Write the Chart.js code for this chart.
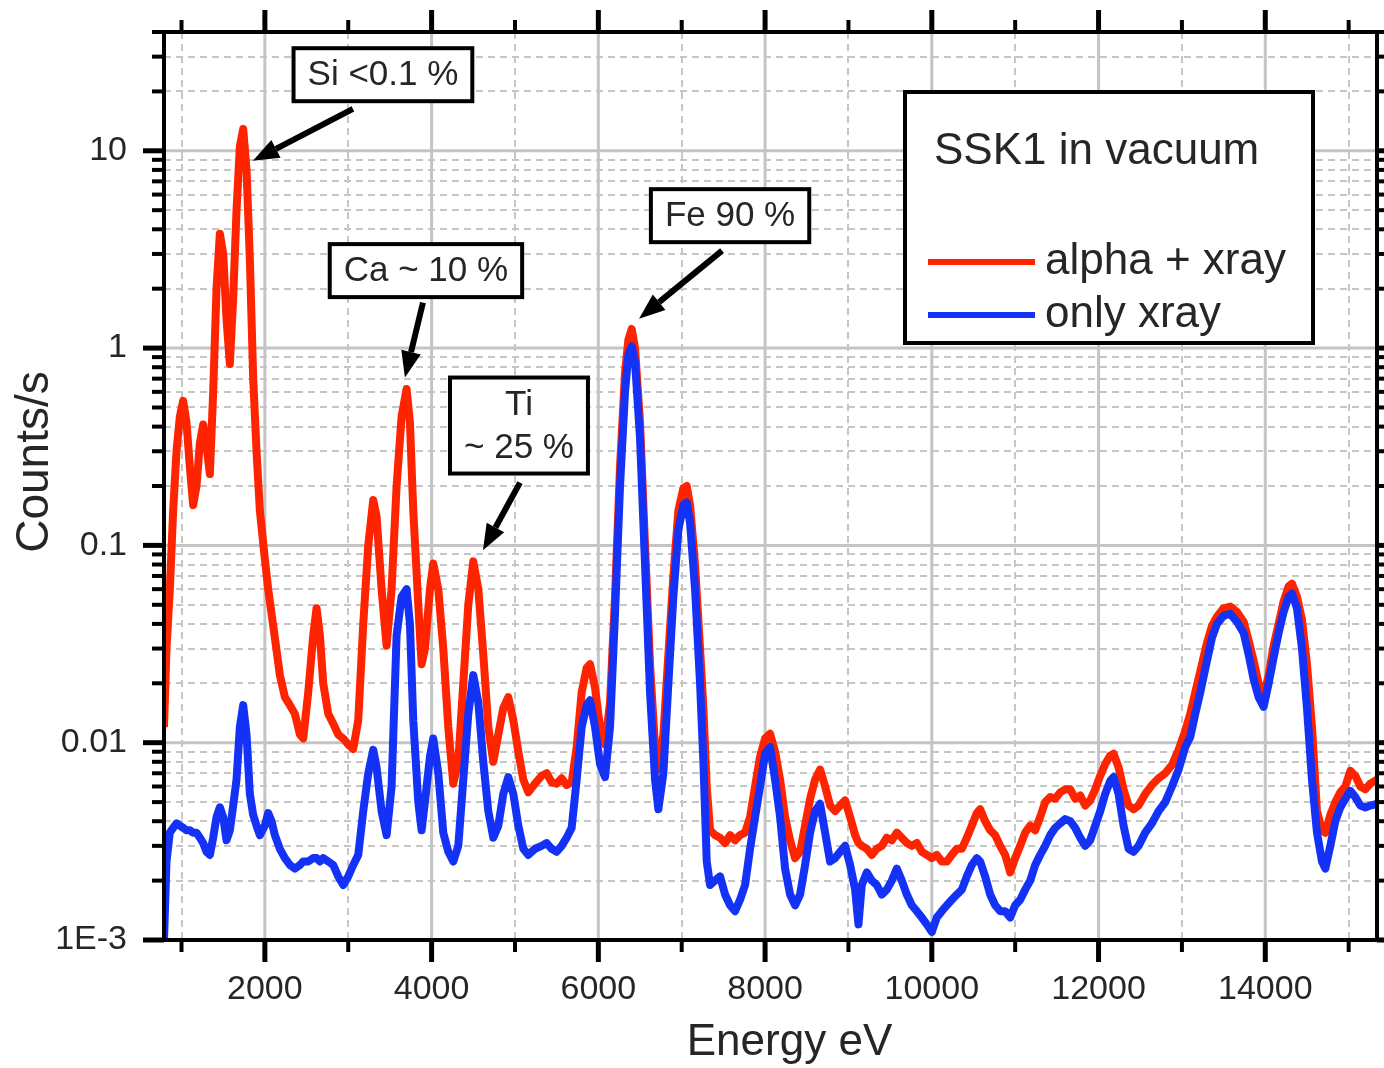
<!DOCTYPE html>
<html><head><meta charset="utf-8">
<script src="https://cdn.jsdelivr.net/npm/chart.js@4.4.1/dist/chart.umd.min.js"></script>
<style>html,body{margin:0;padding:0;background:#fff}canvas{display:block}</style>
</head><body>
<canvas id="c" width="1384" height="1068"></canvas>
<script>
// ---- data ----
const energy = [790,820,860,900,940,980,1020,1060,1100,1140,1180,1220,1260,1300,1340,1380,1420,1460,1500,1540,1580,1620,1660,1700,1740,1780,1820,1860,1900,1940,
2000,2040,2080,2120,2180,2240,2300,2360,2420,2460,2520,2580,2620,2660,2700,2760,2820,2880,2940,3000,3060,3120,3180,3240,3300,3340,3400,3460,3520,3580,3640,3700,3740,3780,3840,3880,3920,3980,
4020,4080,4140,4200,4260,4320,4380,4440,4500,4560,4620,4680,4740,4800,4860,4920,4980,5040,5100,5160,5240,5320,5380,5440,5500,5560,5620,5680,5740,5800,5860,5900,5960,
6020,6080,6140,6200,6260,6320,6360,6400,6440,6500,6560,6620,6680,6720,6780,6840,6900,6960,7020,7060,7100,7160,7220,7260,7300,7340,7400,7460,7520,7580,7640,7700,7760,7820,7880,7940,
8000,8060,8120,8180,8240,8300,8360,8420,8480,8540,8600,8660,8720,8780,8840,8900,8960,9020,9080,9120,9160,9220,9280,9340,9400,9460,9520,9580,9640,9700,9760,9820,9880,9940,
10000,10060,10120,10180,10240,10300,10360,10420,10480,10540,10580,10640,10700,10760,10820,10880,10940,11000,11060,11120,11180,11240,11300,11360,11420,11480,11540,11600,11660,11720,11780,11840,11900,11960,
12020,12080,12140,12180,12240,12300,12360,12420,12480,12560,12640,12720,12800,12880,12960,13040,13100,13160,13220,13300,13360,13420,13500,13580,13660,13740,13800,13860,13920,13980,
14040,14100,14160,14220,14280,14320,14380,14440,14500,14560,14620,14680,14720,14780,14840,14900,14960,15020,15080,15140,15200,15260,15340];

const alphaXray = [0.012,0.03,0.06,0.15,0.3,0.45,0.54,0.42,0.25,0.16,0.2,0.33,0.41,0.32,0.23,0.6,2.0,3.8,3.0,1.4,0.83,1.8,5.0,10.5,12.9,8.0,2.8,0.7,0.3,0.15,
0.085,0.06,0.045,0.034,0.022,0.017,0.0155,0.014,0.011,0.0105,0.018,0.035,0.048,0.035,0.02,0.014,0.0125,0.011,0.0105,0.0098,0.0093,0.013,0.04,0.1,0.17,0.14,0.06,0.031,0.06,0.2,0.45,0.62,0.42,0.15,0.05,0.025,0.03,0.06,
0.081,0.06,0.03,0.012,0.0062,0.008,0.02,0.05,0.083,0.06,0.028,0.012,0.008,0.011,0.015,0.017,0.013,0.009,0.0065,0.0056,0.0062,0.0068,0.007,0.0063,0.0062,0.0066,0.0061,0.0063,0.0095,0.018,0.024,0.025,0.019,
0.012,0.0098,0.016,0.055,0.25,0.75,1.1,1.25,1.0,0.42,0.1,0.025,0.0095,0.0073,0.011,0.028,0.07,0.15,0.195,0.2,0.16,0.08,0.03,0.015,0.006,0.0036,0.0034,0.0033,0.0031,0.0034,0.0032,0.0034,0.0035,0.0042,0.006,0.0085,
0.0105,0.0111,0.009,0.0065,0.0042,0.0032,0.0026,0.0028,0.0038,0.0052,0.0065,0.0073,0.006,0.0048,0.0045,0.0048,0.0051,0.0042,0.0034,0.0031,0.003,0.0029,0.0027,0.0029,0.003,0.0033,0.0032,0.0035,0.0033,0.0031,0.003,0.0031,0.0028,0.0027,
0.0026,0.0027,0.0025,0.0025,0.0027,0.0029,0.0029,0.0033,0.0038,0.0044,0.0046,0.004,0.0036,0.0034,0.003,0.0027,0.0022,0.0026,0.003,0.0035,0.0038,0.0036,0.0042,0.005,0.0053,0.0052,0.0056,0.0058,0.0058,0.0052,0.0054,0.0048,0.0051,0.0058,
0.0068,0.0078,0.0086,0.0088,0.0075,0.0058,0.0048,0.0046,0.0048,0.0055,0.0061,0.0066,0.007,0.0077,0.0092,0.0115,0.014,0.018,0.023,0.032,0.039,0.0435,0.048,0.049,0.046,0.041,0.033,0.026,0.02,0.0171,
0.022,0.031,0.04,0.052,0.062,0.064,0.055,0.042,0.025,0.012,0.0045,0.0036,0.0035,0.0043,0.005,0.0056,0.006,0.0072,0.0068,0.006,0.0058,0.0062,0.0065];

const onlyXray = [0.001,0.0025,0.0035,0.0037,0.0039,0.0038,0.0037,0.0036,0.0036,0.0035,0.0035,0.0033,0.0031,0.0028,0.0027,0.0033,0.0042,0.0047,0.0042,0.0032,0.0036,0.0048,0.0065,0.012,0.0155,0.011,0.0055,0.0043,0.0038,0.0034,
0.0038,0.0044,0.004,0.0034,0.0029,0.0026,0.0024,0.0023,0.0024,0.0025,0.0025,0.0026,0.0026,0.0025,0.0026,0.0025,0.0024,0.0021,0.0019,0.0021,0.0024,0.0027,0.0045,0.007,0.0092,0.0075,0.0045,0.0034,0.006,0.035,0.055,0.06,0.04,0.013,0.005,0.0036,0.005,0.0085,
0.0105,0.007,0.0035,0.0028,0.0025,0.003,0.0065,0.014,0.022,0.016,0.008,0.0045,0.0033,0.0038,0.0055,0.0067,0.0055,0.0038,0.0029,0.0027,0.0029,0.003,0.0031,0.0029,0.0028,0.003,0.0033,0.0037,0.0065,0.012,0.0155,0.0164,0.012,
0.0078,0.0067,0.012,0.045,0.2,0.6,0.92,1.02,0.85,0.35,0.08,0.018,0.0065,0.0046,0.007,0.02,0.055,0.12,0.16,0.165,0.13,0.06,0.02,0.008,0.0025,0.0019,0.002,0.0021,0.0017,0.0015,0.0014,0.0016,0.0019,0.0029,0.0042,0.006,
0.0088,0.0095,0.0065,0.0042,0.0023,0.0017,0.0015,0.0017,0.0024,0.0035,0.0045,0.0049,0.0035,0.0025,0.0026,0.0028,0.003,0.0024,0.0018,0.0012,0.0019,0.0022,0.002,0.0019,0.0017,0.0018,0.002,0.0023,0.002,0.0017,0.0015,0.0014,0.0013,0.0012,
0.0011,0.0013,0.0014,0.0015,0.0016,0.0017,0.0018,0.0021,0.0024,0.0026,0.0025,0.0021,0.0017,0.0015,0.0014,0.0014,0.0013,0.0015,0.0016,0.0018,0.002,0.0024,0.0027,0.003,0.0034,0.0037,0.0039,0.0041,0.004,0.0037,0.0033,0.003,0.0032,0.0038,
0.0045,0.0055,0.0064,0.0067,0.0055,0.0038,0.0029,0.0028,0.003,0.0035,0.0039,0.0045,0.005,0.006,0.0073,0.0095,0.0107,0.014,0.018,0.026,0.034,0.04,0.044,0.045,0.041,0.036,0.028,0.021,0.017,0.0152,
0.02,0.027,0.036,0.046,0.055,0.057,0.048,0.03,0.015,0.0065,0.0035,0.0025,0.0023,0.003,0.004,0.0047,0.0052,0.0057,0.0053,0.0048,0.0047,0.0048,0.0049];

const seriesLabels = ['alpha + xray', 'only xray'];
const legendTitle = 'SSK1 in vacuum';
const xTitle = 'Energy eV';
const yTitle = 'Counts/s';
const xMajorTicks = [2000, 4000, 6000, 8000, 10000, 12000, 14000];
const xMinorTicks = [1000, 3000, 5000, 7000, 9000, 11000, 13000, 15000];
const yMajorTicks = [0.001, 0.01, 0.1, 1, 10];
const yMajorLabels = ['1E-3', '0.01', '0.1', '1', '10'];

// annotation labels, anchored in data coordinates (energy, counts)
const annotations = [
  { lines: ['Si <0.1 %'], boxE: 3416, boxV: 24.3, tailE: 3056, tailV: 16.3, tipE: 1856, tipV: 8.9 },
  { lines: ['Ca ~ 10 %'], boxE: 3932, boxV: 2.47, tailE: 3896, tailV: 1.70, tipE: 3680, tipV: 0.71 },
  { lines: ['Ti', '~ 25 %'], boxE: 5048, boxV: 0.405, tailE: 5060, tailV: 0.208, tipE: 4616, tipV: 0.0944 },
  { lines: ['Fe 90 %'], boxE: 7580, boxV: 4.69, tailE: 7484, tailV: 3.12, tipE: 6488, tipV: 1.41 }
];

// ---- styling ----
const FONT = "'Liberation Sans', Arial, Helvetica, sans-serif";
const TEXT = '#262626';
const RED = '#ff2400';
const BLUE = '#1432f6';

function arrow(ctx, x1, y1, x2, y2) {
  const ang = Math.atan2(y2 - y1, x2 - x1);
  const hl = 26, hw = 10;
  const bx = x2 - hl * Math.cos(ang), by = y2 - hl * Math.sin(ang);
  ctx.lineWidth = 6;
  ctx.lineCap = 'butt';
  ctx.beginPath(); ctx.moveTo(x1, y1); ctx.lineTo(bx, by); ctx.stroke();
  ctx.beginPath();
  ctx.moveTo(x2, y2);
  ctx.lineTo(bx - hw * Math.sin(ang), by + hw * Math.cos(ang));
  ctx.lineTo(bx + hw * Math.sin(ang), by - hw * Math.cos(ang));
  ctx.closePath(); ctx.fill();
}

const decorations = {
  id: 'decorations',
  beforeDraw(chart) {
    const ctx = chart.ctx;
    ctx.save(); ctx.fillStyle = '#fff'; ctx.fillRect(0, 0, chart.width, chart.height); ctx.restore();
  },
  beforeDatasetsDraw(chart) {
    const { ctx, chartArea: a, scales: { x: X, y: Y } } = chart;
    ctx.save();
    ctx.beginPath(); ctx.rect(a.left, a.top, a.width, a.height); ctx.clip();
    // minor y grid (dashed)
    ctx.strokeStyle = '#c6c6c6'; ctx.lineWidth = 2; ctx.setLineDash([7, 5]);
    yMajorTicks.forEach(d => {
      for (let m = 2; m <= 9; m++) {
        const v = d * m; if (v > Y.max) continue;
        const p = Math.round(Y.getPixelForValue(v));
        ctx.beginPath(); ctx.moveTo(a.left, p); ctx.lineTo(a.right, p); ctx.stroke();
      }
    });
    xMinorTicks.forEach(v => {
      const p = Math.round(X.getPixelForValue(v));
      ctx.beginPath(); ctx.moveTo(p, a.top); ctx.lineTo(p, a.bottom); ctx.stroke();
    });
    // major grid (solid)
    ctx.setLineDash([]); ctx.strokeStyle = '#c4c4c4'; ctx.lineWidth = 3;
    yMajorTicks.forEach(v => {
      const p = Y.getPixelForValue(v);
      ctx.beginPath(); ctx.moveTo(a.left, p); ctx.lineTo(a.right, p); ctx.stroke();
    });
    xMajorTicks.forEach(v => {
      const p = X.getPixelForValue(v);
      ctx.beginPath(); ctx.moveTo(p, a.top); ctx.lineTo(p, a.bottom); ctx.stroke();
    });
    ctx.restore();
  },
  afterDatasetsDraw(chart) {
    const { ctx, chartArea: a, scales: { x: X, y: Y } } = chart;
    ctx.save();
    // frame
    ctx.strokeStyle = '#000'; ctx.fillStyle = '#000'; ctx.lineWidth = 4;
    ctx.strokeRect(a.left, a.top, a.width, a.height);
    // tick marks on all four sides
    const tick = (x1, y1, x2, y2, w) => { ctx.lineWidth = w; ctx.beginPath(); ctx.moveTo(x1, y1); ctx.lineTo(x2, y2); ctx.stroke(); };
    xMajorTicks.forEach(v => { const p = X.getPixelForValue(v); tick(p, a.bottom, p, a.bottom + 22, 5); tick(p, a.top, p, a.top - 22, 5); });
    xMinorTicks.forEach(v => { const p = X.getPixelForValue(v); tick(p, a.bottom, p, a.bottom + 12, 4); tick(p, a.top, p, a.top - 12, 4); });
    yMajorTicks.forEach(d => {
      const p = Y.getPixelForValue(d);
      tick(a.left, p, a.left - 21, p, 5); tick(a.right, p, a.right + 21, p, 5);
      for (let m = 2; m <= 9; m++) {
        const v = d * m; if (v > Y.max) continue;
        const q = Y.getPixelForValue(v);
        tick(a.left, q, a.left - 12, q, 4); tick(a.right, q, a.right + 12, q, 4);
      }
    });
    // annotations
    ctx.font = '35px ' + FONT; ctx.textAlign = 'center'; ctx.textBaseline = 'middle';
    annotations.forEach(an => {
      const cx = X.getPixelForValue(an.boxE), cy = Y.getPixelForValue(an.boxV);
      const tw = Math.max(...an.lines.map(l => ctx.measureText(l).width));
      const w = tw + 28, h = 10 + 43 * an.lines.length;
      ctx.fillStyle = '#000'; ctx.strokeStyle = '#000';
      arrow(ctx, X.getPixelForValue(an.tailE), Y.getPixelForValue(an.tailV), X.getPixelForValue(an.tipE), Y.getPixelForValue(an.tipV));
      ctx.fillStyle = '#fff'; ctx.fillRect(cx - w / 2, cy - h / 2, w, h);
      ctx.lineWidth = 4; ctx.strokeRect(cx - w / 2, cy - h / 2, w, h);
      ctx.fillStyle = TEXT;
      an.lines.forEach((l, i) => ctx.fillText(l, cx, cy + (i - (an.lines.length - 1) / 2) * 43 + 1));
    });
    // legend box
    const lx = a.right - 472, ly = a.top + 60, lw = 408, lh = 251;
    ctx.fillStyle = '#fff'; ctx.fillRect(lx, ly, lw, lh);
    ctx.lineWidth = 4; ctx.strokeStyle = '#000'; ctx.strokeRect(lx, ly, lw, lh);
    ctx.font = '44px ' + FONT; ctx.textAlign = 'left'; ctx.fillStyle = TEXT;
    ctx.fillText(legendTitle, lx + 29, ly + 60);
    chart.data.datasets.forEach((ds, i) => {
      const yy = ly + 170 + i * 53;
      ctx.strokeStyle = ds.borderColor; ctx.lineWidth = 6;
      ctx.beginPath(); ctx.moveTo(lx + 23, yy); ctx.lineTo(lx + 130, yy); ctx.stroke();
      ctx.fillStyle = TEXT; ctx.fillText(ds.label, lx + 140, yy);
    });
    // axis titles
    ctx.font = '44px ' + FONT; ctx.textAlign = 'center'; ctx.fillStyle = TEXT;
    ctx.fillText(xTitle, (a.left + a.right) / 2 + 19, a.bottom + 103);
    ctx.translate(a.left - 129, (a.top + a.bottom) / 2 - 24);
    ctx.rotate(-Math.PI / 2);
    ctx.font = '46px ' + FONT;
    ctx.fillText(yTitle, 0, 0);
    ctx.restore();
  }
};

new Chart(document.getElementById('c'), {
  type: 'line',
  data: {
    datasets: [
      { label: seriesLabels[0], data: energy.map((e, i) => ({ x: e, y: alphaXray[i] })), borderColor: RED, borderWidth: 8, pointRadius: 0, tension: 0, borderJoinStyle: 'round', order: 1, clip: 0 },
      { label: seriesLabels[1], data: energy.map((e, i) => ({ x: e, y: onlyXray[i] })), borderColor: BLUE, borderWidth: 8, pointRadius: 0, tension: 0, borderJoinStyle: 'round', order: 0, clip: 0 }
    ]
  },
  options: {
    responsive: false,
    animation: false,
    events: [],
    layout: { padding: { top: 32, right: 7, left: 0, bottom: 0 } },
    plugins: { legend: { display: false }, tooltip: { enabled: false }, title: { display: false } },
    scales: {
      x: {
        type: 'linear', min: 790, max: 15340,
        grid: { display: false }, border: { display: false },
        afterBuildTicks: s => { s.ticks = xMajorTicks.map(v => ({ value: v })); },
        afterFit: s => { s.height = 128; s.paddingLeft = 0; s.paddingRight = 0; },
        ticks: { padding: 21, color: TEXT, font: { size: 34, family: FONT }, maxRotation: 0, autoSkip: false, callback: v => String(v) }
      },
      y: {
        type: 'logarithmic', min: 0.001, max: 40,
        grid: { display: false }, border: { display: false },
        afterBuildTicks: s => { s.ticks = yMajorTicks.map(v => ({ value: v })); },
        afterFit: s => { s.width = 164; s.paddingTop = 0; s.paddingBottom = 0; },
        ticks: { padding: 29, color: TEXT, font: { size: 34, family: FONT }, autoSkip: false, callback: (v, i) => yMajorLabels[i] }
      }
    }
  },
  plugins: [decorations]
});
</script>
</body></html>
